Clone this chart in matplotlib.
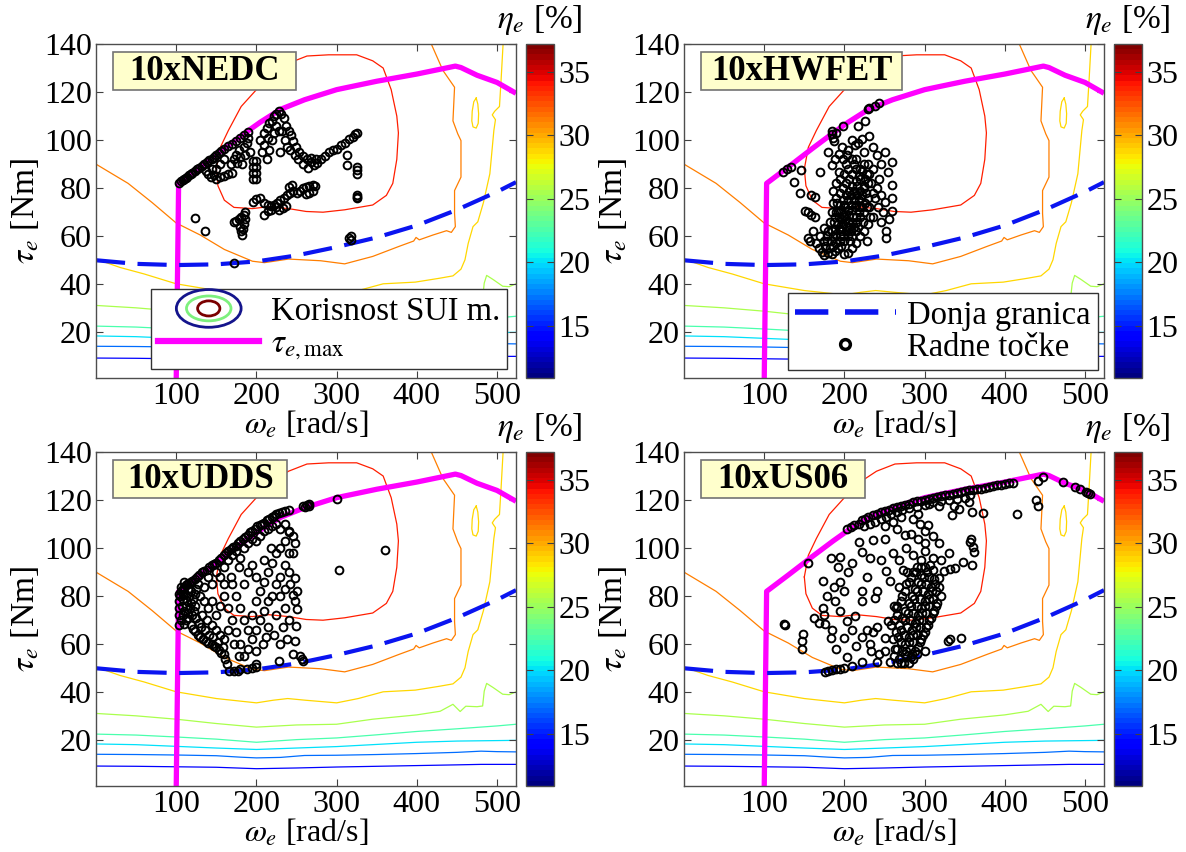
import numpy as np
import matplotlib
matplotlib.use('Agg')
import matplotlib.pyplot as plt
from matplotlib import cm, colors
from matplotlib.legend_handler import HandlerBase
from matplotlib.patches import Ellipse, Rectangle
from matplotlib.lines import Line2D

plt.rcParams['font.family'] = ['Liberation Serif', 'DejaVu Serif']
plt.rcParams['mathtext.fontset'] = 'stix'
plt.rcParams['font.size'] = 23

# ---------------- data ----------------
ETA_MIN, ETA_MAX = 10.9, 37.2
CBAR_TICKS = [15, 20, 25, 30, 35]
X_TICKS = [100, 200, 300, 400, 500]
Y_TICKS = [20, 40, 60, 80, 100, 120, 140]
CYCLES = ['10xNEDC', '10xHWFET', '10xUDDS', '10xUS06']

# efficiency contour lines (level, omega, tau)
C14_W = [0, 50, 100, 150, 200, 250, 300, 350, 400, 450, 480, 500, 523.6]
C14_T = [9.3, 9.2, 9.0, 8.8, 8.2, 8.5, 8.9, 9.2, 9.5, 9.8, 10.0, 10.0, 10.0]
C17_W = [0, 50, 100, 150, 180, 200, 230, 260, 300, 350, 400, 450, 480, 500, 523.6]
C17_T = [14.2, 14.1, 13.9, 13.6, 13.0, 12.7, 12.9, 13.7, 13.8, 14.1, 14.5, 15.0, 15.5, 15.3, 15.2]
C20_W = [0, 50, 100, 150, 200, 250, 300, 350, 400, 450, 500, 523.6]
C20_T = [18.5, 18.2, 17.5, 16.8, 16.2, 16.8, 17.4, 18.3, 19.2, 19.7, 19.9, 20.0]
C22_W = [0, 50, 100, 150, 200, 250, 300, 350, 400, 450, 500, 523.6]
C22_T = [22.6, 22.2, 21.4, 20.5, 19.2, 20.3, 21.0, 22.3, 23.7, 24.8, 26.0, 26.7]
C25_W = [0, 50, 100, 150, 200, 250, 300, 345, 400, 429, 445, 454, 461, 475, 482, 484, 487, 495, 507, 515, 523.6]
C25_T = [31.2, 30.2, 28.8, 27.0, 25.5, 26.4, 26.7, 28.8, 30.6, 32.1, 35.0, 32.0, 34.2, 34.0, 34.3, 40.5, 43.7, 42.0, 39.2, 39.0, 40.2]
C29_W = [0, 30, 60, 100, 150, 200, 221, 239, 261, 300, 327, 358, 398, 428, 445, 455, 460, 464, 470, 476, 483, 491,
         496, 498, 494, 497, 503, 505, 507.5]
C29_T = [50.5, 47.0, 44.3, 40.2, 37.4, 35.6, 36.7, 37.4, 36.7, 35.6, 37.4, 40.2, 40.9, 42.5, 43.5, 46.3, 50.2, 57.0,
         64.0, 66.0, 74.0, 86.0, 104.0, 108.5, 110.5, 112.0, 114.0, 125.0, 140.0]
C29I_W = [474, 476, 477, 476.5, 474, 470, 468.5, 469, 471, 474]
C29I_T = [117.5, 115, 111, 107, 105, 105.5, 108, 112, 116, 117.5]
C31_W = [418, 432.5, 447, 445, 451, 455, 455, 447, 447, 448, 443, 437, 420, 403, 399, 396, 378, 345, 310, 280, 240,
         210, 195, 160, 130, 100, 70, 40, 0]
C31_T = [140, 129, 122, 108, 102.6, 99.8, 84.6, 79, 69.5, 64, 61.6, 62.3, 60.5, 58.5, 59.5, 58, 55.8, 51.6, 48.5,
         49.8, 50.5, 49, 49.6, 54.5, 60.5, 65.5, 74, 82, 90]
C33_W = [150, 155, 165, 181, 200, 215, 240, 263, 290, 325, 345, 358, 368, 375, 377, 375, 370, 362, 345, 310, 283,
         262, 240, 215, 195, 172, 160, 152, 150]
C33_T = [88, 97, 104, 114, 121, 126.5, 132, 135, 135.5, 135.5, 133, 130, 121, 110, 103, 92, 82, 77, 73, 71, 70,
         70.3, 71.5, 72.3, 71.5, 72, 75, 81, 88]
CONTOURS = [(14, C14_W, C14_T), (17, C17_W, C17_T), (20, C20_W, C20_T), (22.5, C22_W, C22_T),
            (25.5, C25_W, C25_T), (28.8, C29_W, C29_T), (28.8, C29I_W, C29I_T), (31.3, C31_W, C31_T),
            (34, C33_W, C33_T)]

# maximum torque curve
TMAX_W = [100, 103, 130, 160, 186, 205, 230, 260, 300, 350, 400, 448, 455, 475, 500, 523.6]
TMAX_T = [0, 82, 88.8, 96.5, 103, 107.5, 112.8, 116.8, 121, 124.5, 127.5, 130.8, 130.2, 127, 124, 119.5]

# lower bound
LOW_W = [0, 50, 100, 150, 200, 250, 300, 350, 400, 450, 500, 523.6]
LOW_T = [50, 48.5, 48, 48.3, 49.5, 52, 55.5, 59.5, 64.5, 71, 78.5, 82.5]

# operating points (omega, tau)
NEDC_PTS = [
    (104, 82.3), (106, 82.8), (108, 83.3), (110, 83.8), (112, 84.3), (114, 84.8), (116, 85.3), (118, 85.8),
    (120, 86.3), (123, 87), (126, 87.8), (129, 88.5), (132, 89.3), (135, 90), (138, 90.8), (141, 91.6),
    (144, 92.3), (147, 93), (150, 93.8), (153, 94.6), (156, 95.3), (160, 96.3), (165, 97.5), (170, 98.5),
    (175, 99.8), (180, 101), (185, 102.3), (190, 103.3),
    (140, 86), (143, 84.5), (147, 85.5), (150, 84), (155, 84.5), (160, 85), (165, 86), (170, 86.5), (168, 90),
    (172, 92), (175, 94), (178, 96), (180, 93), (182, 90), (185, 97), (188, 99), (190, 101), (186, 94), (192, 95),
    (176, 90.5), (160, 92), (155, 90), (150, 88), (145, 88), (137, 87),
    (196, 84), (196, 86.5), (196, 89), (196, 91.5), (200, 84), (200, 86.5), (200, 89), (200, 91.5),
    (205, 100), (210, 103), (213, 105), (216, 107), (219, 108), (222, 110), (225, 111), (228, 112), (231, 111),
    (234, 109), (237, 106), (240, 104), (243, 102), (246, 99.5), (249, 97), (253, 95), (258, 93.5), (263, 92.3),
    (268, 91), (272, 89.5), (276, 90.5), (281, 92), (286, 93.5), (291, 95), (296, 96), (301, 96.5), (306, 98),
    (311, 99), (316, 100.5), (320, 101.5), (323, 102.5), (325, 103),
    (207, 95), (210, 98), (213, 92), (216, 96), (219, 100), (222, 103), (225, 106), (228, 104), (215, 101),
    (232, 104), (235, 100), (238, 97), (242, 96), (248, 94), (252, 92), (258, 90), (264, 88.5), (268, 92.5),
    (274, 92), (230, 95),
    (313, 93.6), (313, 89.5), (325, 87.5), (325, 86), (326, 88.8), (325, 77), (325, 75.8), (326, 76.5),
    (196, 74.4), (200, 75.5), (205, 75.8), (210, 74), (214, 73), (218, 72.5), (222, 73), (226, 74), (230, 75),
    (234, 76), (238, 77), (242, 78), (246, 79), (250, 78), (254, 79), (258, 80), (262, 80.5), (266, 81),
    (270, 81.5), (273, 81), (270, 79), (266, 78), (262, 77.5), (240, 80.5), (244, 81.5),
    (210, 69), (214, 70.3), (218, 71), (224, 72.3), (228, 71), (233, 71.6), (237, 72.5),
    (172, 66), (175, 66.5), (178, 67), (181, 68), (184, 69), (186, 70), (180, 64), (181, 62), (182, 60.5),
    (183, 63), (184, 65), (186, 67),
    (123.5, 67.5), (136.5, 62), (172.4, 49), (316, 59.3), (317.5, 58.6), (318, 60),
]

HWFET_PTS = [
    (123.5, 86.8), (128, 87.9), (133, 88.8), (184, 102.6), (185, 104), (186, 101), (187, 99.8), (189, 103),
    (198, 106), (217, 106), (226, 108), (229, 113), (231, 113.5), (238, 114.3), (243, 115.4),
    (137.5, 82.6), (146, 87.5), (144.6, 77.8), (150.6, 70.5), (155, 70), (158.6, 68.9), (163, 68.2), (154, 59.3),
    (157, 58), (161, 62), (158.6, 77), (163, 76.5), (170, 86.8), (174, 63.4), (178, 60), (165, 57), (168, 55),
    (172, 53.5), (175, 52), (170, 60),
    (180, 95), (193.7, 94.3), (184, 89.5), (193.7, 86.8), (188, 92), (197, 97), (202, 90), (205, 96), (210, 100),
    (213, 98), (217, 99), (222, 100.5), (231, 101.9), (225, 95), (235, 97), (240.5, 93.6), (250, 95), (245, 90),
    (254.5, 86.8), (259, 91), (259, 81.3), (259, 75.8), (259, 70.3), (250, 74.4), (252, 62), (252, 59.3),
    (255, 67), (248, 70), (245, 77), (240, 80), (243, 84), (236, 88), (230, 90), (228, 86), (233, 82), (238, 76),
    (242, 72), (246, 66), (236, 68),
    (180, 53), (182, 55), (184, 52.5), (186, 56), (188, 54), (190, 57), (192, 55), (194, 58), (196, 56), (198, 60),
    (200, 58), (202, 62), (204, 60), (206, 64), (208, 62), (210, 66), (212, 64), (214, 68), (216, 66), (218, 70),
    (220, 68), (222, 72), (224, 70), (226, 74), (228, 72), (230, 76),
    (186, 60), (188, 63), (190, 61), (192, 65), (194, 63), (196, 67), (198, 65), (200, 69), (202, 67), (204, 71),
    (206, 69), (208, 73), (210, 71), (212, 75), (214, 73), (216, 77), (218, 75), (220, 79), (222, 77), (224, 81),
    (192, 70), (194, 73), (196, 71), (198, 75), (200, 73), (202, 77), (204, 75), (206, 79), (208, 77), (210, 81),
    (212, 79), (214, 83), (216, 81), (218, 85), (220, 84), (222, 87), (210, 86), (206, 84), (202, 82), (198, 80),
    (194, 78), (190, 76), (186, 74), (184, 70), (182, 66), (180, 62), (178, 58), (176, 56), (174, 58),
    (200, 52.5), (205, 53), (210, 55), (215, 57), (220, 60), (225, 62), (230, 65), (232, 68), (228, 58), (196, 62),
    (188, 68), (212, 90), (215, 92), (205, 88), (200, 86), (195, 84), (190, 82), (186, 79),
    (183, 58), (185, 62), (187, 66), (189, 70), (191, 74), (193, 68), (195, 60), (197, 64), (199, 68), (201, 72),
    (203, 64), (205, 66), (207, 58), (209, 60), (211, 68), (213, 72), (215, 62), (217, 64), (219, 72), (221, 76),
    (223, 66), (225, 80), (227, 78), (229, 82), (231, 72), (219, 88), (224, 90), (214, 88), (209, 92), (203, 94),
    (198, 92), (231, 86), (226, 84), (236, 78),
]

UDDS_PTS = [
    (103, 68), (104, 72), (104, 75), (104, 78), (105, 80), (106, 82), (108, 83), (110, 84), (112, 84.5), (114, 85),
    (116, 85.5), (118, 86), (120, 86.5), (123, 87), (126, 88), (129, 89), (132, 90), (135, 90.5), (138, 91),
    (141, 92), (144, 93), (147, 93.5), (150, 94), (153, 95), (156, 96), (159, 97), (162, 98), (165, 99),
    (168, 99.5), (171, 100.5), (174, 101), (177, 102), (180, 103), (183, 104), (186, 104.5), (189, 105.5),
    (192, 106.5), (195, 107), (198, 108), (201, 109), (204, 109.5), (207, 110), (210, 110.5), (213, 111.5),
    (216, 112), (219, 113), (222, 113.5), (225, 114), (228, 114.5), (232, 115), (236, 115.5), (240, 116),
    (258, 117.5), (263, 118), (266, 118.2),
    (106, 70), (108, 72), (110, 74), (112, 76), (114, 78), (116, 80), (118, 82), (107, 76), (109, 79), (111, 81),
    (113, 71), (115, 73), (117, 75), (119, 77), (121, 79), (123, 81), (120, 72), (122, 74), (124, 76), (110, 68.5),
    (112, 70), (125, 83), (127, 85), (115, 83), (108, 80.5), (104, 81), (106, 84), (110, 86),
    (118, 68), (121, 66.5), (124, 65.5), (127, 64), (130, 63), (133, 62), (137, 61.4), (140, 60.5), (144, 60),
    (147, 59.3), (150, 58.7), (153, 57.5), (156, 56.5), (159, 56), (161, 54), (163.5, 51.8), (158, 59), (152, 61),
    (146, 63), (141, 64), (136, 66), (131, 67), (128, 69), (125, 71), (132, 72), (138, 70), (144, 68), (150, 66),
    (155, 64), (160, 62),
    (165.7, 48.8), (172, 48.8), (176.7, 49), (187.8, 49.8), (199, 50.7), (200, 51.8), (227.7, 53.2), (256.5, 53.9),
    (254, 55.3), (180, 49.5), (195, 50), (258, 53),
    (130, 80), (135, 84), (140, 88), (145, 85), (150, 90), (155, 88), (160, 92), (165, 95), (170, 97), (175, 99),
    (180, 96), (185, 100), (190, 102), (195, 104), (200, 103), (205, 105), (210, 107), (215, 108), (220, 109),
    (225, 110), (230, 108), (235, 110), (240, 107), (245, 105), (248, 102), (245, 97.8), (241, 106.7),
    (247.6, 87.5), (250, 82), (247.6, 77.9), (250, 74.5), (249, 67.6), (247.6, 61.4), (245, 55.9), (245, 80.6),
    (240, 90), (235, 93), (230, 88), (225, 85), (220, 80), (215, 78), (210, 74), (205, 70), (200, 66), (195, 62),
    (190, 58), (185, 55), (180, 60), (175, 65), (170, 70), (165, 75), (160, 80), (155, 76), (150, 72), (145, 78),
    (140, 75), (135, 78), (170, 85), (175, 80), (180, 75), (185, 70), (190, 66), (195, 72), (200, 78), (205, 82),
    (210, 86), (215, 90), (220, 94), (225, 98), (230, 100), (235, 103), (240, 98), (230, 80), (235, 75), (240, 70),
    (238, 62), (230, 60), (222, 64), (215, 67), (208, 60), (200, 57), (225, 72), (190, 90), (195, 93), (200, 88),
    (185, 85), (178, 92), (168, 88), (160, 85), (165, 66), (172, 60), (178, 55), (210, 95), (218, 100), (212, 63),
    (233, 67), (242, 85), (236, 83),
    (300.8, 120.4), (303, 90.9), (360.6, 99.1), (261, 117), (265.6, 117.4),
]

US06_PTS = [
    (155, 93.7), (203.6, 108), (208, 108.8), (212, 109.5), (217.6, 110.2), (222, 111.6), (226, 112.3),
    (230, 112.9), (235, 113.6), (240, 114.3), (245, 114.9), (250, 115.5), (255, 116), (260, 116.5), (265, 117),
    (270, 117.6), (275, 118), (280, 118.5), (285, 119), (290, 119.4), (295, 119.8), (300, 120.2), (305, 120.6),
    (310, 120.9), (315, 121.3), (320, 121.7), (325, 122), (330, 122.3), (335, 122.6), (340, 123), (345, 123.3),
    (350, 123.6), (355, 124), (360, 124.2), (365, 124.5), (370, 124.8), (375, 125.2), (380, 125.5), (385, 125.8),
    (390, 126.1), (395, 126.4), (400, 126.7), (405, 127), (410, 127.3), (440.7, 128), (447.7, 129.8),
    (473, 127.4), (487, 125.6), (494, 124.6), (501, 123.2), (506, 122.6), (504, 122.8),
    (225, 109), (232, 110), (238, 111), (245, 112), (252, 113), (258, 114), (265, 115), (272, 116), (280, 116.5),
    (290, 117), (300, 118), (310, 119), (320, 119.5), (330, 120), (340, 120.5), (350, 121), (357, 121.9),
    (354.7, 119.1), (359.3, 115), (343, 116.4), (333.8, 113.6), (336.1, 117.7), (373, 114.7), (415, 114.3),
    (438.4, 120.2), (440.7, 117.7), (306, 118.4), (317.5, 117.7), (292, 114), (285, 112), (270, 113), (260, 111),
    (250, 109),
    (124.6, 68.3), (125.5, 68), (147.8, 64.2), (147, 61.4), (147, 58), (161.8, 71), (173.4, 75.2), (173.4, 86.4),
    (186.4, 84), (182.7, 95.8), (194.3, 96.5), (192.4, 92.3), (175, 72), (168, 69), (175.7, 68.3), (182.7, 62.8),
    (175.7, 48.4), (180, 49), (185, 49.2), (190, 49.5), (194.3, 49.8), (200, 50), (210, 51), (222, 52.5),
    (240, 52.5), (257, 52.5), (282.7, 54.6), (290, 56), (300, 57), (329, 61.4), (332, 62), (345, 62.8),
    (357, 102.6), (361.7, 98.5), (359.3, 93), (347.7, 94.4), (338.4, 91.6), (331.5, 91.4), (324.5, 90.3),
    (317.5, 87.5), (360, 100.5), (358, 104),
    (217.6, 102.6), (222, 98.5), (231.5, 95.8), (236, 103.3), (250, 104), (275.7, 105.4), (277, 100), (292, 104),
    (301, 107), (317.5, 102), (303.6, 109.5), (294.3, 110.2), (272.6, 91), (252.4, 90.3), (257, 86.2),
    (240.8, 82), (238.5, 79.3), (222, 82), (222, 77.9), (213, 71.7), (203.6, 69.7), (194.3, 73.8), (198.9, 62.8),
    (215, 59.4), (203.6, 54.6), (231.5, 60), (250, 62.8), (240.8, 67), (254.7, 69.7), (264, 75.2), (205, 90),
    (210, 94), (228, 88), (245, 95), (260, 98), (268, 95), (285, 97), (295, 95), (300, 99), (310, 96), (265, 108),
    (283, 106),
    (262, 55), (266, 58), (270, 61), (274, 64), (278, 67), (282, 70), (286, 73), (290, 76), (294, 79), (298, 82),
    (302, 85), (306, 88), (310, 91),
    (268, 54), (272, 57), (276, 60), (280, 63), (284, 66), (288, 69), (292, 72), (296, 75), (300, 78), (304, 81),
    (308, 84), (312, 87),
    (260, 62), (264, 65), (268, 68), (272, 71), (276, 74), (280, 77), (284, 80), (288, 83), (292, 86), (296, 89),
    (300, 92),
    (274, 52), (278, 55), (282, 58), (286, 61), (290, 64), (294, 67), (298, 70), (302, 73), (306, 76), (310, 79),
    (314, 82),
    (265, 72), (270, 78), (275, 82), (280, 86), (285, 90), (290, 92), (258, 68), (262, 76), (268, 84), (278, 90),
    (296, 62), (300, 65), (304, 68), (308, 71), (312, 74), (316, 77), (320, 80), (288, 57), (292, 59), (280, 52),
    (286, 54),
    (235, 65), (228, 66), (233, 57), (243, 56), (250, 57), (222, 63), (210, 66), (190, 58), (185, 66), (178, 80),
    (188, 78), (200, 82), (195, 86), (300, 102), (310, 105), (320, 95), (330, 98),
    (263, 58), (267, 63), (271, 66), (275, 70), (279, 73), (283, 76), (287, 79), (291, 82), (295, 85), (299, 88),
    (303, 90), (307, 93), (277, 57), (281, 61), (285, 64), (289, 67), (293, 70), (297, 73), (301, 76), (305, 79),
    (309, 82), (313, 85), (270, 52), (276, 56), (266, 52), (284, 56), (294, 61), (298, 64), (302, 67), (306, 70),
    (310, 73), (314, 76), (318, 84), (262, 70), (266, 76), (272, 80), (277, 85), (283, 88), (289, 90), (295, 92),
]
POINTS = [NEDC_PTS, HWFET_PTS, UDDS_PTS, US06_PTS]

# ---------------- figure ----------------
W, H = 1186, 852
fig = plt.figure(figsize=(W / 100, H / 100), dpi=100)

def fx(px):
    return px / W

def fy(py):
    return 1 - py / H

AX_L = [96, 684, 96, 684]
AX_T = [44, 44, 452, 452]
AX_W, AX_H = 420, 334
CB_OFF, CB_W = 430, 28

norm = colors.Normalize(vmin=ETA_MIN, vmax=ETA_MAX)
cmap_bar = plt.get_cmap('jet', 64)
cmap_line = plt.get_cmap('jet')


class ContourIcon:
    pass


class ContourHandler(HandlerBase):
    def create_artists(self, legend, orig_handle, xdescent, ydescent, width, height, fontsize, trans):
        cx = width / 2 - xdescent
        cy = height / 2 - ydescent
        arts = []
        for fw, fh, c in [(0.64, 0.85, '#14148c'), (0.44, 0.56, '#7df07d'), (0.22, 0.34, '#7a0000')]:
            e = Ellipse((cx, cy), width * fw, fontsize * 1.36 * fh, fill=False, ec=c, lw=2.0, transform=trans)
            arts.append(e)
        return arts


for i, name in enumerate(CYCLES):
    ax = fig.add_axes([fx(AX_L[i]), fy(AX_T[i] + AX_H), AX_W / W, AX_H / H])
    cax = fig.add_axes([fx(AX_L[i] + CB_OFF), fy(AX_T[i] + AX_H), CB_W / W, AX_H / H])

    for lev, cw, ct in CONTOURS:
        ax.plot(cw, ct, color=cmap_line(norm(lev)), lw=0.9, zorder=1)

    ax.plot(TMAX_W, TMAX_T, color='#ff00ff', lw=3.8, zorder=2, solid_capstyle='butt')
    ax.plot(LOW_W, LOW_T, color='#0a14f0', lw=3.0, dashes=(7, 3), zorder=2)

    pw = [p[0] for p in POINTS[i]]
    pt = [p[1] for p in POINTS[i]]
    ax.plot(pw, pt, 'o', mfc='none', mec='k', ms=5.6, mew=1.4, zorder=3)

    ax.set_xlim(0, 523.6)
    ax.set_ylim(1, 140)
    ax.set_xticks(X_TICKS)
    ax.set_yticks(Y_TICKS)
    ax.tick_params(direction='in', top=True, right=True, length=5, width=0.8, color='0.25',
                   labelsize=23, pad=3)
    for s in ax.spines.values():
        s.set_color('0.3')
        s.set_linewidth(1.0)
    ax.set_xlabel(r'$\omega_e$ [rad/s]', fontsize=23, labelpad=-1)
    ax.set_ylabel(r'$\tau_e$ [Nm]', fontsize=24, labelpad=2)

    # cycle name box
    tw = {0: 0.436, 1: 0.478, 2: 0.414, 3: 0.390}[i]
    ax.add_patch(Rectangle((0.041, 0.862), tw, 0.113, transform=ax.transAxes, fc='#ffffcc',
                           ec='0.45', lw=1.2, zorder=5))
    ax.text(0.041 + tw / 2, 0.862 + 0.113 / 2, name, transform=ax.transAxes, ha='center', va='center',
            fontsize=25, fontweight='bold', zorder=6)

    if i == 0:
        h1 = ContourIcon()
        h2 = Line2D([], [], color='#ff00ff', lw=4.5)
        leg = ax.legend([h1, h2], ['Korisnost SUI m.', r'$\tau_{e,\max}$'],
                        handler_map={ContourIcon: ContourHandler()},
                        loc='lower right', bbox_to_anchor=(0.979, 0.027), borderaxespad=0,
                        fontsize=23.5, handlelength=3.1, handletextpad=0.35, labelspacing=0.05,
                        borderpad=0.22, fancybox=False, framealpha=1, edgecolor='0.2')
        leg.get_frame().set_linewidth(1.0)
        leg.set_zorder(10)
    elif i == 1:
        h1 = Line2D([], [], color='#0a14f0', lw=4.0, dashes=(6, 3))
        h2 = Line2D([], [], ls='none', marker='o', mfc='none', mec='k', ms=7, mew=2.5)
        leg = ax.legend([h1, h2], ['Donja granica', 'Radne točke'],
                        loc='lower right', bbox_to_anchor=(0.986, 0.024), borderaxespad=0,
                        fontsize=23.5, handlelength=3.1, handletextpad=0.35, labelspacing=0.05,
                        borderpad=0.22, fancybox=False, framealpha=1, edgecolor='0.2')
        leg.get_frame().set_linewidth(1.0)
        leg.set_zorder(10)

    sm = cm.ScalarMappable(norm=norm, cmap=cmap_bar)
    cb = fig.colorbar(sm, cax=cax, ticks=CBAR_TICKS)
    cb.outline.set_edgecolor('0.3')
    cb.outline.set_linewidth(1.0)
    cax.tick_params(direction='in', left=True, right=True, length=5, width=0.8, color='0.25',
                    labelsize=23, pad=3)
    cax.text(0.5, 1.02, r'$\eta_e$ [%]', transform=cax.transAxes, ha='center', va='bottom', fontsize=24)

fig.savefig('out.png', dpi=100)
